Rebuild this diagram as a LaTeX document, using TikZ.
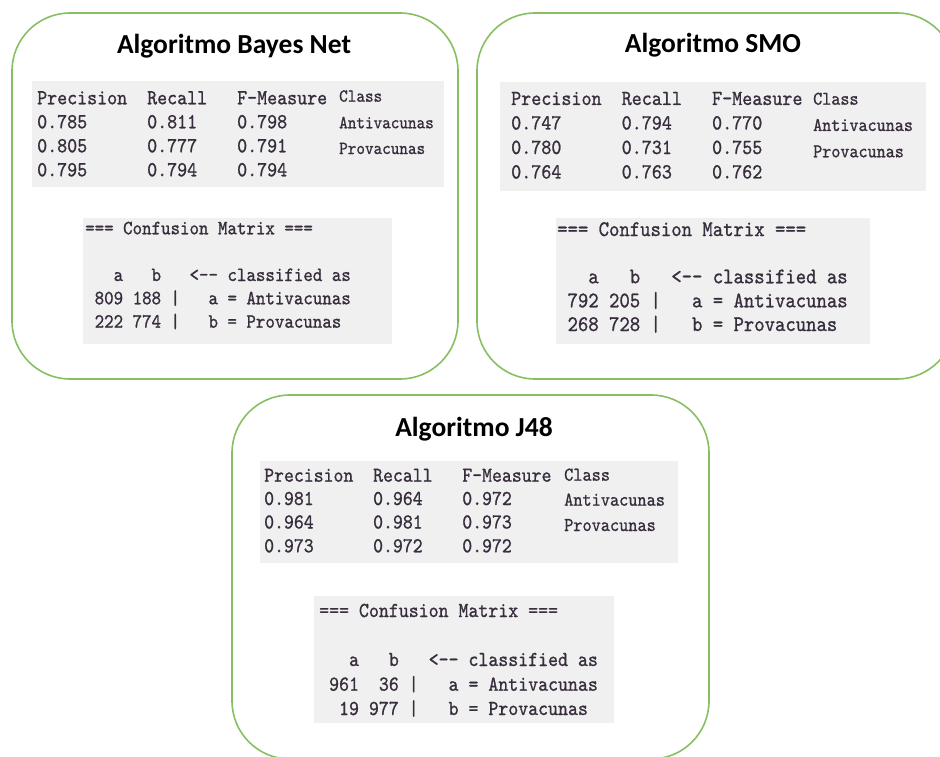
\documentclass[tikz,border=0pt]{standalone}
\usepackage{fontspec}
\newfontfamily\titlefont{Carlito}
\newfontfamily\monof{lmmono10-regular.otf}[FakeBold=0.9, FakeStretch=0.89]
\definecolor{boxgreen}{RGB}{135,192,100}
\definecolor{panel}{RGB}{240,240,240}
\definecolor{monotext}{RGB}{55,45,60}
\begin{document}
\begin{tikzpicture}[x=1pt,y=-1pt,
  frame/.style={draw=boxgreen, line width=1.6pt, rounded corners=58pt},
  panelbox/.style={fill=panel, draw=none},
  title/.style={font=\titlefont\bfseries\fontsize{27.5}{32}\selectfont, anchor=base, inner sep=0pt},
  ln/.style={anchor=base west, inner sep=0pt, text=monotext},
  ma/.style={ln, font=\monof\fontsize{21.4}{24}\selectfont},
  mb/.style={ln, font=\monof\fontsize{18.4}{22}\selectfont},
  mc/.style={ln, font=\monof\fontsize{20.3}{24}\selectfont},
  na/.style={ln, font=\monof\fontsize{21.5}{24}\selectfont},
  nb/.style={ln, font=\monof\fontsize{19.4}{22}\selectfont},
  nc/.style={ln, font=\monof\fontsize{22.2}{24}\selectfont},
  pa/.style={ln, font=\monof\fontsize{21.2}{24}\selectfont},
  pb/.style={ln, font=\monof\fontsize{19.6}{22}\selectfont},
  pc/.style={ln, font=\monof\fontsize{21.3}{24}\selectfont},
]
\useasboundingbox (0,0) rectangle (940,757);
\begin{scope}
\clip (0,0) rectangle (940,757);
% ---------- frames and panels
\draw[frame] (12,13) rectangle (458,379);
\draw[frame] (477,13) rectangle (955,379);
\draw[frame] (232,395) rectangle (709,759);
\fill[panelbox] (32,81) rectangle (444,187);
\fill[panelbox] (83,218) rectangle (392,344);
\fill[panelbox] (500,82) rectangle (926,191);
\fill[panelbox] (556,218) rectangle (870,344);
\fill[panelbox] (260,461) rectangle (678,563);
\fill[panelbox] (314,596) rectangle (614,723);
\end{scope}
% ---------- Bayes Net
\node[title] (t1) at (234,54) {Algoritmo Bayes Net};
\node[ma] (b1h) at (37,104.3) {Precision~~Recall~~~F-Measure};
\node[ma] (b1r1) at (37,128.3) {0.785~~~~~~0.811~~~~0.798};
\node[ma] (b1r2) at (37,152.3) {0.805~~~~~~0.777~~~~0.791};
\node[ma] (b1r3) at (37,176.3) {0.795~~~~~~0.794~~~~0.794};
\node[mb] (b1c0) at (339,101.7) {Class};
\node[mb] (b1c1) at (339,128.3) {Antivacunas};
\node[mb] (b1c2) at (339,154) {Provacunas};
\node[mc] (b1m0) at (85,234.3) {===~Confusion~Matrix~===};
\node[mc] (b1m1) at (85,281) {~~~a~~~b~~~<-\kern0pt-~classified~as};
\node[mc] (b1m2) at (85,304.3) {~809~188~|~~~a~=~Antivacunas};
\node[mc] (b1m3) at (85,327.7) {~222~774~|~~~b~=~Provacunas};
% ---------- SMO
\node[title] (t2) at (713,52.3) {Algoritmo SMO};
\node[na] (b2h) at (511,105) {Precision~~Recall~~~F-Measure};
\node[na] (b2r1) at (511,129.5) {0.747~~~~~~0.794~~~~0.770};
\node[na] (b2r2) at (511,154) {0.780~~~~~~0.731~~~~0.755};
\node[na] (b2r3) at (511,178.5) {0.764~~~~~~0.763~~~~0.762};
\node[nb] (b2c0) at (813,104.7) {Class};
\node[nb] (b2c1) at (813,131) {Antivacunas};
\node[nb] (b2c2) at (813,157.3) {Provacunas};
\node[nc] (b2m0) at (557,236) {===~Confusion~Matrix~===};
\node[nc] (b2m1) at (557,283.3) {~~~a~~~b~~~<-\kern0pt-~classified~as};
\node[nc] (b2m2) at (557,307.3) {~792~205~|~~~a~=~Antivacunas};
\node[nc] (b2m3) at (557,331) {~268~728~|~~~b~=~Provacunas};
% ---------- J48
\node[title] (t3) at (474,436.7) {Algoritmo J48};
\node[pa] (b3h) at (264,481.7) {Precision~~Recall~~~F-Measure};
\node[pa] (b3r1) at (264,505) {0.981~~~~~~0.964~~~~0.972};
\node[pa] (b3r2) at (264,528.5) {0.964~~~~~~0.981~~~~0.973};
\node[pa] (b3r3) at (264,552.3) {0.973~~~~~~0.972~~~~0.972};
\node[pb] (b3c0) at (564,480.7) {Class};
\node[pb] (b3c1) at (564,505.7) {Antivacunas};
\node[pb] (b3c2) at (564,531) {Provacunas};
\node[pc] (b3m0) at (319,617) {===~Confusion~Matrix~===};
\node[pc] (b3m1) at (319,666) {~~~a~~~b~~~<-\kern0pt-~classified~as};
\node[pc] (b3m2) at (319,690.7) {~961~~36~|~~~a~=~Antivacunas};
\node[pc] (b3m3) at (319,715) {~~19~977~|~~~b~=~Provacunas};
\end{tikzpicture}
\end{document}
